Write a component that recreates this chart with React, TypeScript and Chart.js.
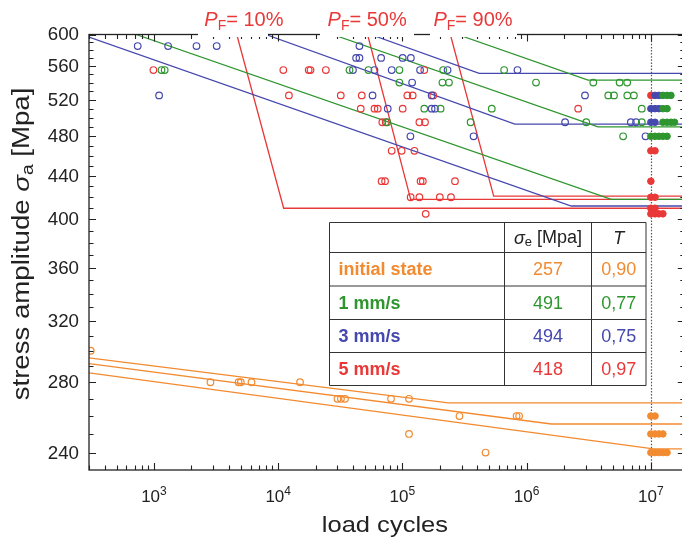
import React, { useEffect, useRef } from "react";
import { Chart, registerables } from "chart.js";
Chart.register(...registerables);

const FONT = "'Liberation Sans', Arial, sans-serif";

const X_MIN = 300;
const X_MAX = 1.876e7;
const Y_MIN = 231;
const Y_MAX = 600;

const seriesNames = ["initial state", "1 mm/s", "3 mm/s", "5 mm/s"];
const seriesColors = ["#f28a30", "#2f962f", "#4548ad", "#e93838"];
const enduranceLimits = ["257", "491", "494", "418"];
const scatterBands = ["0,90", "0,77", "0,75", "0,97"];

const xMajorTicks = [1e3, 1e4, 1e5, 1e6, 1e7];
const xTickExponents = ["3", "4", "5", "6", "7"];
const yMajorTicks = [240, 280, 320, 360, 400, 440, 480, 520, 560, 600];

const runoutLimit = 1e7;

// [load cycles, stress amplitude]
const initialFailures = [
  [310, 300], [2850, 280], [4800, 280], [5000, 280], [6100, 280], [15000, 280],
  [30000, 270], [32000, 270], [34500, 270], [81000, 270], [113000, 270], [113000, 250],
  [288000, 260], [830000, 260], [870000, 260], [467000, 240],
];
const initialRunouts = [
  [1e7, 260], [1.08e7, 260], [1e7, 250], [1.08e7, 250], [1.16e7, 250], [1.25e7, 250],
  [1e7, 240], [1.08e7, 240], [1.16e7, 240], [1.25e7, 240], [1.35e7, 240],
];

const v1Failures = [
  [1150, 555], [1220, 555], [37500, 555], [53300, 555], [94600, 555], [213000, 555], [659000, 555],
  [94600, 540], [210000, 540], [237000, 540], [1.19e6, 540], [3.44e6, 540], [5.6e6, 540], [6.45e6, 540],
  [4.54e6, 525], [5.05e6, 525], [6.46e6, 525], [7.3e6, 525],
  [150000, 510], [203000, 510], [524000, 510], [8.45e6, 510],
  [75400, 495], [354000, 495], [3.02e6, 495], [8.45e6, 495],
  [5.98e6, 480],
];
const v1Runouts = [
  [1.25e7, 525], [1.35e7, 525], [1.45e7, 525], [1.25e7, 510], [1.35e7, 510],
  [1.25e7, 495], [1.35e7, 495], [1.45e7, 495], [1.55e7, 495],
  [1e7, 480], [1.08e7, 480], [1.16e7, 480], [1.25e7, 480], [1.35e7, 480],
];

const v3Failures = [
  [740, 585], [1300, 585], [2200, 585], [3200, 585], [45100, 585],
  [42400, 570], [45100, 570], [67400, 570], [100500, 570], [117000, 570],
  [40000, 555], [59600, 555], [82000, 555], [138700, 555], [231000, 555], [844000, 555],
  [119700, 540],
  [1100, 525], [57500, 525], [172000, 525], [2.95e6, 525],
  [76200, 510], [172000, 510], [183000, 510],
  [2.04e6, 495], [6.9e6, 495], [7.6e6, 495],
  [116000, 480], [374000, 480], [9.06e6, 480],
];
const v3Runouts = [
  [1.08e7, 525], [1.16e7, 525], [1e7, 510], [1.08e7, 510], [1.16e7, 510], [1e7, 495], [1.08e7, 495],
];

const v5Failures = [
  [990, 555], [11000, 555], [17600, 555], [18200, 555], [24200, 555], [150000, 555],
  [12200, 525], [31900, 525], [47100, 525], [109600, 525], [121000, 525], [177000, 525],
  [46200, 510], [59600, 510], [63300, 510], [100500, 510], [2.6e6, 510],
  [68900, 495], [73400, 495], [137000, 495], [152000, 495],
  [82000, 465], [98600, 465], [125000, 465],
  [68000, 435], [72500, 435], [140000, 435], [146000, 435], [265000, 435],
  [116500, 420], [137000, 420], [200000, 420], [246000, 420],
  [154000, 405],
];
const v5Runouts = [
  [1e7, 525], [1e7, 465], [1.08e7, 465], [1e7, 435], [1e7, 420], [1.08e7, 420],
  [1e7, 410], [1.08e7, 410], [1e7, 405], [1.08e7, 405], [1.16e7, 405], [1.25e7, 405],
];

// S-N lines: [start cycles, start stress, knee cycles, knee stress]
const initialPF = [[300, 295.3, 2.34e5, 267.6], [300, 291.6, 1.58e6, 255.5], [300, 285.8, 1.05e7, 242]];
const v1PF = [[717, 600, 4.8e6, 418], [27400, 600, 3.75e6, 490], [2.77e5, 600, 3.12e6, 543]];
const v3PF = [[300, 596.5, 2.29e6, 412], [7935, 600, 8.03e5, 493], [55300, 600, 4.15e5, 551]];
const v5PF = [[4640, 600, 11070, 410], [52400, 600, 116600, 418], [2.43e5, 600, 5.43e5, 421]];

const pfLabels = ["10%", "50%", "90%"];
const pfLabelCycles = [5300, 52000, 3.7e5];

const failureSets = [initialFailures, v1Failures, v3Failures, v5Failures];
const runoutSets = [initialRunouts, v1Runouts, v3Runouts, v5Runouts];
const pfSets = [initialPF, v1PF, v3PF, v5PF];

function buildDatasets() {
  const out: any[] = [];
  runoutSets.forEach((set, i) => {
    out.push({
      data: set.map(([x, y]) => ({ x, y })),
      pointRadius: 3.3, pointBorderWidth: 1, borderColor: seriesColors[i],
      backgroundColor: seriesColors[i], showLine: false, order: 0,
    });
  });
  failureSets.forEach((set, i) => {
    out.push({
      data: set.map(([x, y]) => ({ x, y })),
      pointRadius: 3.3, pointBorderWidth: 1.2, borderColor: seriesColors[i],
      backgroundColor: "rgba(255,255,255,0)", showLine: false, order: 1,
    });
  });
  pfSets.forEach((set, i) => {
    set.forEach(([n0, s0, nk, sk]) => {
      out.push({
        data: [{ x: n0, y: s0 }, { x: nk, y: sk }, { x: X_MAX, y: sk }],
        showLine: true, pointRadius: 0, borderColor: seriesColors[i],
        borderWidth: 1.3, fill: false, tension: 0, order: 2,
      });
    });
  });
  return out;
}

function xTickList() {
  const t: { v: number; major: boolean }[] = [];
  for (let d = 100; d <= 1e7; d *= 10) {
    for (let m = 1; m <= 9; m++) {
      const v = m * d;
      if (v >= X_MIN && v <= X_MAX) t.push({ v, major: m === 1 });
    }
  }
  return t;
}
function yTickList() {
  const t: { v: number; major: boolean }[] = [];
  for (let v = 240; v <= 600; v += 10) t.push({ v, major: yMajorTicks.includes(v) });
  return t;
}

type Part = { t: string; f: string; dy: number };
function drawRich(ctx: CanvasRenderingContext2D, parts: Part[], x: number, y: number, align: "center" | "left" | "right", sx = 1) {
  let w = 0;
  parts.forEach((p) => { ctx.font = p.f; w += ctx.measureText(p.t).width; });
  ctx.save();
  ctx.translate(x, y);
  ctx.scale(sx, 1);
  let cx = align === "center" ? -w / 2 : align === "right" ? -w : 0;
  ctx.textAlign = "left";
  parts.forEach((p) => {
    ctx.font = p.f;
    ctx.fillText(p.t, cx, p.dy);
    cx += ctx.measureText(p.t).width;
  });
  ctx.restore();
}

const decor = {
  id: "decor",
  beforeDatasetsDraw(chart: any) {
    const { ctx, chartArea: a, scales } = chart;
    const px = Math.round(scales.x.getPixelForValue(runoutLimit)) + 0.5;
    ctx.save();
    ctx.strokeStyle = "#555";
    ctx.lineWidth = 1.2;
    ctx.setLineDash([1.5, 1.6]);
    ctx.beginPath();
    ctx.moveTo(px, a.top);
    ctx.lineTo(px, a.bottom);
    ctx.stroke();
    ctx.restore();
  },
  afterDraw(chart: any) {
    const { ctx, chartArea: a, scales } = chart;
    const x = scales.x, y = scales.y;
    ctx.save();
    // frame
    ctx.strokeStyle = "#222";
    ctx.lineWidth = 1.3;
    ctx.strokeRect(a.left, a.top, a.right - a.left, a.bottom - a.top);
    // ticks
    ctx.lineWidth = 1.1;
    ctx.beginPath();
    xTickList().forEach(({ v, major }) => {
      const p = Math.round(x.getPixelForValue(v)) + 0.5;
      const L = major ? 7 : 4.5;
      ctx.moveTo(p, a.bottom); ctx.lineTo(p, a.bottom - L);
      ctx.moveTo(p, a.top); ctx.lineTo(p, a.top + L);
    });
    yTickList().forEach(({ v, major }) => {
      const p = Math.round(y.getPixelForValue(v)) + 0.5;
      const L = major ? 7 : 4.5;
      ctx.moveTo(a.left, p); ctx.lineTo(a.left + L, p);
      ctx.moveTo(a.right, p); ctx.lineTo(a.right - L, p);
    });
    ctx.stroke();
    // erased parts of the top axis behind the PF labels
    ctx.fillStyle = "#fff";
    [[198, 268], [320, 414], [430, 517]].forEach(([l, r]) => {
      ctx.fillRect(l, a.top - 4, r - l, 6.5);
    });
    // y tick labels
    ctx.fillStyle = "#222";
    ctx.textBaseline = "middle";
    yMajorTicks.forEach((v) => {
      const p = y.getPixelForValue(v);
      drawRich(ctx, [{ t: String(v), f: `18px ${FONT}`, dy: 1 }], a.left - 10, p, "right", 1.04);
    });
    // x tick labels
    ctx.textBaseline = "alphabetic";
    xMajorTicks.forEach((v, i) => {
      const p = x.getPixelForValue(v);
      drawRich(ctx, [
        { t: "10", f: `17px ${FONT}`, dy: 0 },
        { t: xTickExponents[i], f: `12px ${FONT}`, dy: -7 },
      ], p, 502, "center");
    });
    // axis titles
    drawRich(ctx, [{ t: "load cycles", f: `22px ${FONT}`, dy: 0 }], (a.left + a.right) / 2 - 2, 532, "center", 1.16);
    ctx.save();
    ctx.translate(29, 244);
    ctx.rotate(-Math.PI / 2);
    drawRich(ctx, [
      { t: "stress amplitude ", f: `23px ${FONT}`, dy: 0 },
      { t: "σ", f: `italic 23px ${FONT}`, dy: 0 },
      { t: "a", f: `16px ${FONT}`, dy: 4 },
      { t: " [Mpa]", f: `23px ${FONT}`, dy: 0 },
    ], 0, 0, "center", 1.2);
    ctx.restore();
    // PF labels
    ctx.fillStyle = seriesColors[3];
    pfLabels.forEach((lab, i) => {
      const p = x.getPixelForValue(pfLabelCycles[i]);
      drawRich(ctx, [
        { t: "P", f: `italic 20px ${FONT}`, dy: 0 },
        { t: "F", f: `14px ${FONT}`, dy: 4 },
        { t: "= " + lab, f: `20px ${FONT}`, dy: 0 },
      ], p, 26, "center");
    });
    // table
    const cols = [329.5, 504.5, 591.5, 646];
    const rows = [222.5, 252.5, 286, 319.5, 352.5, 385.5];
    ctx.fillStyle = "#fff";
    ctx.fillRect(cols[0], rows[0], cols[3] - cols[0], rows[5] - rows[0]);
    ctx.strokeStyle = "#333";
    ctx.lineWidth = 1;
    ctx.beginPath();
    rows.forEach((r) => { ctx.moveTo(cols[0], r); ctx.lineTo(cols[3], r); });
    cols.forEach((c) => { ctx.moveTo(c, rows[0]); ctx.lineTo(c, rows[5]); });
    ctx.stroke();
    ctx.textBaseline = "middle";
    const c2 = (cols[1] + cols[2]) / 2;
    const c3 = (cols[2] + cols[3]) / 2;
    ctx.fillStyle = "#222";
    const hy = (rows[0] + rows[1]) / 2 + 1;
    drawRich(ctx, [
      { t: "σ", f: `italic 18px ${FONT}`, dy: 0 },
      { t: "e", f: `13px ${FONT}`, dy: 4 },
      { t: " [Mpa]", f: `18px ${FONT}`, dy: 0 },
    ], c2, hy, "center");
    drawRich(ctx, [{ t: "T", f: `italic 18px ${FONT}`, dy: 0 }], c3, hy, "center");
    seriesNames.forEach((name, i) => {
      const ry = (rows[i + 1] + rows[i + 2]) / 2 + 1;
      ctx.fillStyle = seriesColors[i];
      ctx.font = `bold 18px ${FONT}`;
      ctx.textAlign = "left";
      ctx.fillText(name, cols[0] + 9, ry);
      ctx.font = `18px ${FONT}`;
      ctx.textAlign = "center";
      ctx.fillText(enduranceLimits[i], c2, ry);
      ctx.fillText(scatterBands[i], c3, ry);
    });
    ctx.restore();
  },
};

export default function App() {
  const ref = useRef<HTMLCanvasElement>(null);
  useEffect(() => {
    if (!ref.current) return;
    const chart = new Chart(ref.current, {
      type: "scatter",
      data: { datasets: buildDatasets() },
      options: {
        animation: false,
        responsive: false,
        maintainAspectRatio: false,
        layout: { padding: { top: 34.5, right: 4, left: 0, bottom: 0 } },
        plugins: { legend: { display: false }, tooltip: { enabled: false } },
        scales: {
          x: {
            type: "logarithmic", min: X_MIN, max: X_MAX,
            grid: { display: false, drawTicks: false }, border: { display: false },
            ticks: { display: false },
            afterFit: (s: any) => { s.height = 72; },
          },
          y: {
            type: "logarithmic", min: Y_MIN, max: Y_MAX,
            grid: { display: false, drawTicks: false }, border: { display: false },
            ticks: { display: false },
            afterBuildTicks: (s: any) => { s.ticks = yMajorTicks.map((v) => ({ value: v })); },
            afterFit: (s: any) => { s.width = 89; },
          },
        },
      } as any,
      plugins: [decor],
    });
    return () => chart.destroy();
  }, []);
  return (
    <div style={{ position: "fixed", left: 0, top: 0, width: 682, height: 542, overflow: "hidden", background: "#fff" }}>
      <canvas ref={ref} width={690} height={542} style={{ width: 690, height: 542, display: "block" }} />
    </div>
  );
}
